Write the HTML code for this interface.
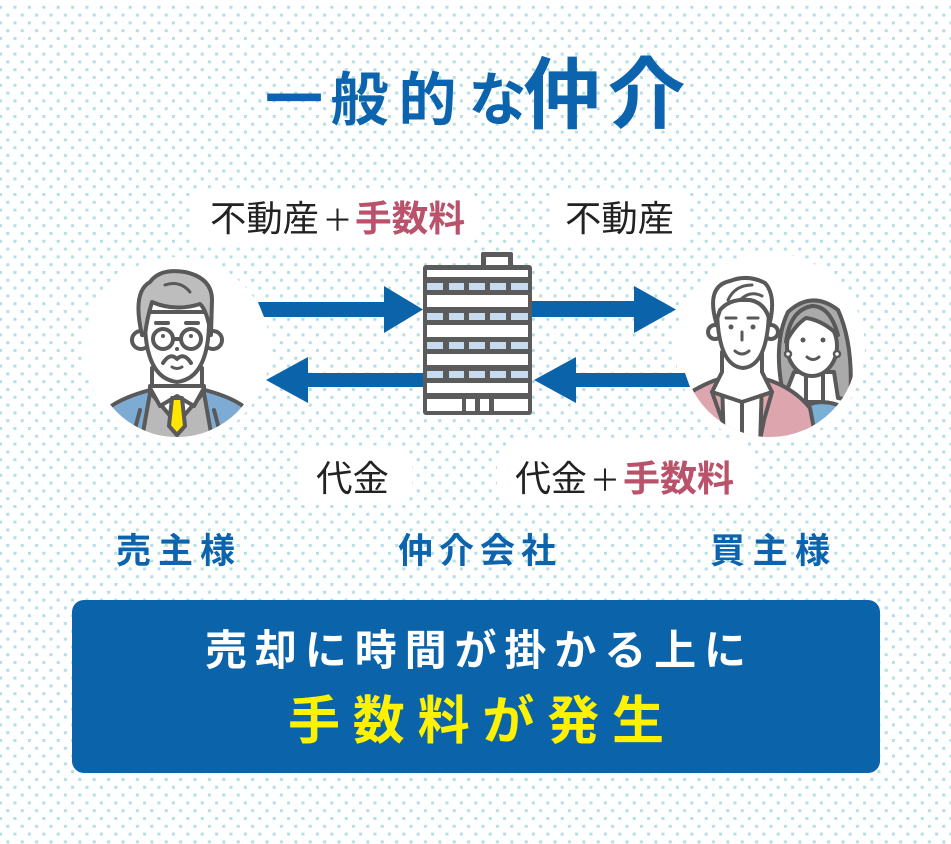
<!DOCTYPE html>
<html><head><meta charset="utf-8">
<style>
html,body{margin:0;padding:0;background:#fff;}
svg{display:block;}
text{font-family:"Liberation Sans","Noto Sans CJK JP",sans-serif;}
</style></head>
<body>
<svg width="951" height="844" viewBox="0 0 951 844" xmlns="http://www.w3.org/2000/svg">
<defs>
<pattern id="dots" x="13.5" y="5.8" width="14.4" height="15.6" patternUnits="userSpaceOnUse">
<rect x="0" y="0" width="3" height="3" fill="#b3dee4"/>
<rect x="7.2" y="7.8" width="3" height="3" fill="#b3dee4"/>
</pattern>
<clipPath id="cl"><circle cx="177" cy="352" r="85"/></clipPath>
<clipPath id="cr"><circle cx="770" cy="350" r="87"/></clipPath>
</defs>
<rect width="951" height="844" fill="#fff"/>
<rect x="0" y="4" width="951" height="840" fill="url(#dots)"/>

<!-- white backings -->
<circle cx="177" cy="350" r="93" fill="#fff"/>
<circle cx="770" cy="348" r="95" fill="#fff"/>
<rect x="190" y="191" width="292" height="54" rx="20" fill="#fff"/>
<rect x="550" y="191" width="140" height="54" rx="20" fill="#fff"/>
<rect x="300" y="447" width="112" height="58" rx="20" fill="#fff"/>
<rect x="497" y="442" width="255" height="63" rx="20" fill="#fff"/>

<!-- title -->
<g fill="#0b64ad" font-weight="bold" text-anchor="middle">
<text x="294" y="120" font-size="58">一</text>
<text x="359.5" y="120" font-size="58">般</text>
<text x="427.5" y="120" font-size="58">的</text>
<text x="497.5" y="120" font-size="58">な</text>
<text x="562" y="122" font-size="78">仲</text>
<text x="646.5" y="122" font-size="78">介</text>
</g>

<!-- top labels -->
<text x="210" y="231" font-size="36" fill="#222" textLength="109" lengthAdjust="spacingAndGlyphs">不動産</text>
<text x="337.5" y="231" font-size="30" fill="#222" text-anchor="middle">＋</text>
<text x="355" y="231" font-size="36" font-weight="bold" fill="#b9526a" textLength="110" lengthAdjust="spacingAndGlyphs">手数料</text>
<text x="565" y="231" font-size="36" fill="#222" textLength="109" lengthAdjust="spacingAndGlyphs">不動産</text>

<!-- bottom labels -->
<text x="316" y="491" font-size="36" fill="#222" textLength="73" lengthAdjust="spacingAndGlyphs">代金</text>
<text x="515" y="491" font-size="36" fill="#222" textLength="72" lengthAdjust="spacingAndGlyphs">代金</text>
<text x="605" y="491" font-size="30" fill="#222" text-anchor="middle">＋</text>
<text x="623" y="491" font-size="36" font-weight="bold" fill="#b9526a" textLength="111" lengthAdjust="spacingAndGlyphs">手数料</text>

<!-- role labels -->
<g fill="#0b64ad" font-weight="bold" font-size="35">
<text x="116" y="563" textLength="119" lengthAdjust="spacing">売主様</text>
<text x="398" y="563" textLength="158" lengthAdjust="spacing">仲介会社</text>
<text x="710" y="563" textLength="120" lengthAdjust="spacing">買主様</text>
</g>

<!-- arrows -->
<g fill="#0b63aa">
<polygon points="258,302 384,302 384,286 423,309.5 384,333 384,317 264,317"/>
<polygon points="520,301 634,301 634,286 676,309.5 634,333 634,317 520,317"/>
<polygon points="440,373 308,373 308,357 266,380 308,403 308,387 440,387"/>
<polygon points="685,373 576,373 576,357 534,380 576,403 576,387 690,387"/>
</g>

<!-- building -->
<g>
<rect x="481" y="252" width="32" height="16" rx="2" fill="#5b5b5b"/>
<rect x="486" y="257" width="22" height="8" fill="#fff"/>
<rect x="423" y="265" width="109" height="150" rx="3" fill="#5b5b5b"/>
<g fill="#fff">
<rect x="427" y="270" width="101" height="7"/>
<rect x="427" y="295" width="101" height="12"/>
<rect x="427" y="325" width="101" height="12"/>
<rect x="427" y="354" width="101" height="11"/>
<rect x="427" y="383" width="101" height="10"/>
<rect x="427" y="399" width="35" height="12"/>
<rect x="466" y="399" width="9" height="12"/>
<rect x="480" y="399" width="9" height="12"/>
<rect x="494" y="399" width="34" height="12"/>
</g>
<g fill="#c6dcee">
<rect x="427" y="283" width="16" height="7"/><rect x="449" y="283" width="15" height="7"/><rect x="469" y="283" width="16" height="7"/><rect x="490" y="283" width="16" height="7"/><rect x="511" y="283" width="17" height="7"/>
<rect x="427" y="313" width="16" height="7"/><rect x="449" y="313" width="15" height="7"/><rect x="469" y="313" width="16" height="7"/><rect x="490" y="313" width="16" height="7"/><rect x="511" y="313" width="17" height="7"/>
<rect x="427" y="342" width="16" height="7"/><rect x="449" y="342" width="15" height="7"/><rect x="469" y="342" width="16" height="7"/><rect x="490" y="342" width="16" height="7"/><rect x="511" y="342" width="17" height="7"/>
<rect x="427" y="371" width="16" height="7"/><rect x="449" y="371" width="15" height="7"/><rect x="469" y="371" width="16" height="7"/><rect x="490" y="371" width="16" height="7"/><rect x="511" y="371" width="17" height="7"/>
</g>
</g>

<!-- old man -->
<g clip-path="url(#cl)" stroke="#595959" stroke-width="4" stroke-linejoin="round" stroke-linecap="round">
<path d="M96,450 L106,410 Q120,398 150,390 L205,390 Q235,398 248,410 L258,450 Z" fill="#7eabd3"/>
<path d="M140,450 L150,393 L204,393 L214,450 Z" fill="#b9b9b9"/>
<rect x="152" y="368" width="50" height="26" fill="#fff"/>
<path d="M150,392 L177,424 L204,392 L204,386 L150,386 Z" fill="#fff"/>
<path d="M150,388 L160,406 L177,396 L194,406 L204,388" fill="#fff"/>
<path d="M172,398 L182,398 L185,426 L177,435 L169,426 Z" fill="#ffe500"/>
<path d="M140,410 L132,440 M214,410 L222,440" fill="none"/>
<circle cx="141" cy="340" r="9" fill="#fff"/>
<circle cx="213" cy="340" r="9" fill="#fff"/>
<path d="M145,312 Q143,378 177,382 Q211,378 209,312 Z" fill="#fff"/>
<path d="M142,335 Q132,292 150,282 Q160,268 185,272 Q212,278 212,300 L211,335 Q207,310 200,304 Q175,312 152,302 Q147,318 145,335 Z" fill="#bdbdbd"/>
<path d="M165,285 Q180,280 190,292" fill="none" stroke-width="3"/>
<circle cx="163" cy="339" r="10" fill="none"/>
<circle cx="191" cy="339" r="10" fill="none"/>
<path d="M173,339 L181,339" fill="none"/>
<path d="M156,323 L168,323 M186,323 L198,323" fill="none"/>
<circle cx="163" cy="336" r="2" fill="#595959" stroke="none"/>
<circle cx="191" cy="336" r="2" fill="#595959" stroke="none"/>
<circle cx="177" cy="349" r="2" fill="#595959" stroke="none"/>
<path d="M163,363 Q170,352 177,359 Q184,352 191,363" fill="none"/>
<path d="M172,367 Q177,370 182,367" fill="none" stroke-width="3"/>
</g>

<!-- couple -->
<g clip-path="url(#cr)" stroke="#595959" stroke-width="4" stroke-linejoin="round" stroke-linecap="round">
<!-- woman -->
<path d="M784,398 Q772,345 788,312 Q812,290 838,310 Q854,345 850,400 L838,398 L834,372 L794,372 Z" fill="#aaaaaa"/>
<path d="M805,450 L808,405 Q824,398 846,408 L854,450 Z" fill="#7ab0d6"/>
<rect x="806" y="368" width="17" height="34" fill="#fff"/>
<ellipse cx="812" cy="346" rx="25" ry="30" fill="#fff"/>
<path d="M786,342 Q790,310 812,306 Q830,306 838,335 Q822,320 806,318 Q795,325 786,342 Z" fill="#aaaaaa"/>
<circle cx="803" cy="340" r="2.5" fill="#595959" stroke="none"/>
<circle cx="823" cy="340" r="2.5" fill="#595959" stroke="none"/>
<path d="M807,357 Q813,362 819,357" fill="none" stroke-width="3"/>
<circle cx="788" cy="354" r="3" fill="#fff" stroke-width="2.5"/>
<circle cx="837" cy="354" r="3" fill="#fff" stroke-width="2.5"/>
<!-- man -->
<path d="M682,450 L688,394 Q705,383 722,378 L762,378 Q792,386 810,408 L818,450 Z" fill="#dda6af"/>
<path d="M722,378 L762,378 L760,450 L724,450 Z" fill="#fff"/>
<rect x="722" y="352" width="40" height="28" fill="#fff"/>
<path d="M722,372 L712,392 L742,402 L772,392 L762,372" fill="#fff"/>
<path d="M742,402 L742,450" fill="none"/>
<path d="M712,392 L722,420 L728,450 M772,392 L764,420 L758,450" fill="none"/>
<circle cx="715" cy="332" r="7" fill="#fff"/>
<circle cx="771" cy="332" r="7" fill="#fff"/>
<path d="M717,300 Q716,366 743,368 Q770,366 769,300 Z" fill="#fff"/>
<path d="M716,322 Q706,286 730,281 Q748,274 765,283 Q776,295 770,322 Q766,303 750,300 Q730,298 720,310 Z" fill="#fff"/>
<path d="M728,300 Q735,285 752,285 M740,300 Q750,290 762,296" fill="none" stroke-width="3"/>
<path d="M726,318 L736,318 M748,318 L758,318" fill="none" stroke-width="3"/>
<circle cx="731" cy="327" r="2.5" fill="#595959" stroke="none"/>
<circle cx="753" cy="327" r="2.5" fill="#595959" stroke="none"/>
<path d="M742,332 L742,340" fill="none" stroke-width="3"/>
<path d="M735,351 Q742,357 749,351" fill="none" stroke-width="3"/>
</g>

<!-- bottom box -->
<rect x="72" y="600" width="808" height="173" rx="12" fill="#0b63aa"/>
<text x="205" y="665" font-size="42" font-weight="bold" fill="#fff" textLength="541" lengthAdjust="spacing">売却に時間が掛かる上に</text>
<text x="288" y="739" font-size="52" font-weight="bold" fill="#fff200" textLength="376" lengthAdjust="spacing">手数料が発生</text>
</svg>
</body></html>
